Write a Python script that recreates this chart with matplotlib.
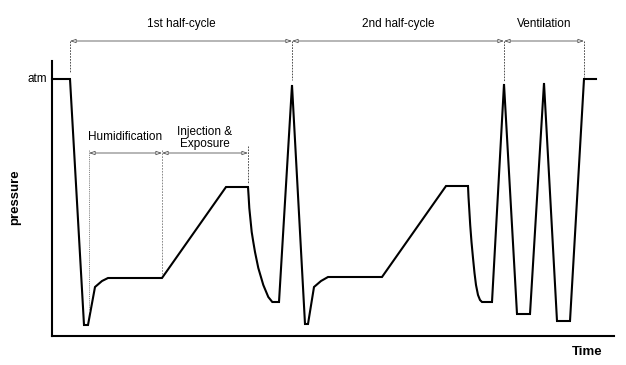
import matplotlib
matplotlib.use("Agg")
import matplotlib.pyplot as plt

plt.rcParams['font.family'] = ['Liberation Sans', 'DejaVu Sans']

# Schematic pressure trace (time units, pressure units; arbitrary)
time = [52, 70, 84, 88, 95, 102, 108, 162, 226, 248,
        248.6, 249.3, 250.5, 251.7, 253.3, 255, 258.3, 263.3, 268.3, 272.3, 279,
        292, 305, 308,
        314, 321, 328, 382, 446, 468,
        468.5, 469.3, 470.2, 471.5, 473, 474.5, 476, 478, 480, 482, 492,
        504, 517, 530,
        544, 557, 570, 584, 596]
pressure = [257, 257, 11, 11, 49, 55, 58, 58, 149, 149,
            140, 128, 116, 104, 94, 84, 68, 51, 39, 34, 34,
            251, 12, 12,
            49, 55, 59, 59, 150, 150,
            139, 126, 111, 94, 78, 63, 51, 41, 36, 34, 34,
            252, 22, 22,
            253, 15, 15, 257, 257]

# Phase boundaries (time)
phase_edges = [70, 292, 504, 584]
phase_labels = ["1st half-cycle", "2nd half-cycle", "Ventilation"]
sub_edges = [89, 162, 248]
sub_labels = ["Humidification", "Injection &\nExposure"]

W, H = 626, 365
fig = plt.figure(figsize=(W / 100, H / 100), dpi=100)
x0, x1 = 52, 614
y0, y1 = 61, 336
ax = fig.add_axes([x0 / W, (H - y1) / H, (x1 - x0) / W, (y1 - y0) / H])
ax.set_xlim(x0, x1)
ax.set_ylim(0, y1 - y0)

ax.plot(time, pressure, color='black', lw=1.5, solid_joinstyle='miter', clip_on=False)

for s in ['top', 'right']:
    ax.spines[s].set_visible(False)
for s in ['left', 'bottom']:
    ax.spines[s].set_linewidth(1.5)
ax.set_xticks([])
ax.set_yticks([])

# atm label
ax.text(x0 - 5, 257, "atm", ha='right', va='center', fontsize=8.5)

def P(px, py):
    return (px, y1 - py)

top_y = 41
arrow_kw = dict(arrowstyle='<|-|>,head_length=0.35,head_width=0.12', color='#555555', lw=0.6,
                shrinkA=0, shrinkB=0, fc='white')
for i, lab in enumerate(phase_labels):
    a, b = phase_edges[i], phase_edges[i + 1]
    ax.annotate("", xy=P(a, top_y), xytext=P(b, top_y), arrowprops=arrow_kw, annotation_clip=False)
    ax.text((a + b) / 2, y1 - 24, lab, ha='center', va='center', fontsize=8.5, clip_on=False)

# dashed verticals at phase edges
tops = {70: 72, 292: 80, 504: 81, 584: 77}
for e in phase_edges:
    ax.plot([e, e], [y1 - top_y, y1 - tops[e]], color='#333333', lw=0.6, ls=(0, (2, 1.5)), clip_on=False)

sub_y = 153
for i, lab in enumerate(sub_labels):
    a, b = sub_edges[i], sub_edges[i + 1]
    ax.annotate("", xy=P(a, sub_y), xytext=P(b, sub_y), arrowprops=arrow_kw, annotation_clip=False)
ax.text((89 + 162) / 2, y1 - 137, sub_labels[0], ha='center', va='center', fontsize=8.5)
ax.text(205, y1 - 138, sub_labels[1], ha='center', va='center', fontsize=8.5, linespacing=1.1)

# dotted verticals for sub-phases
ax.plot([89, 89], [y1 - 150, y1 - 312], color='#888888', lw=0.7, ls=(0, (1.2, 1)))
ax.plot([162, 162], [y1 - 150, y1 - 274], color='#777777', lw=0.6, ls=(0, (2, 1.5)))
ax.plot([248, 248], [y1 - 146, y1 - 184], color='#333333', lw=0.6, ls=(0, (2, 1.5)))

fig.text(15 / W, 1 - 197 / H, "pressure", rotation=90, ha='center', va='center',
         fontsize=9.5, fontweight='bold')
fig.text(587 / W, 1 - 352 / H, "Time", ha='center', va='center', fontsize=9.5, fontweight='bold')

fig.savefig("out.png", dpi=100)
